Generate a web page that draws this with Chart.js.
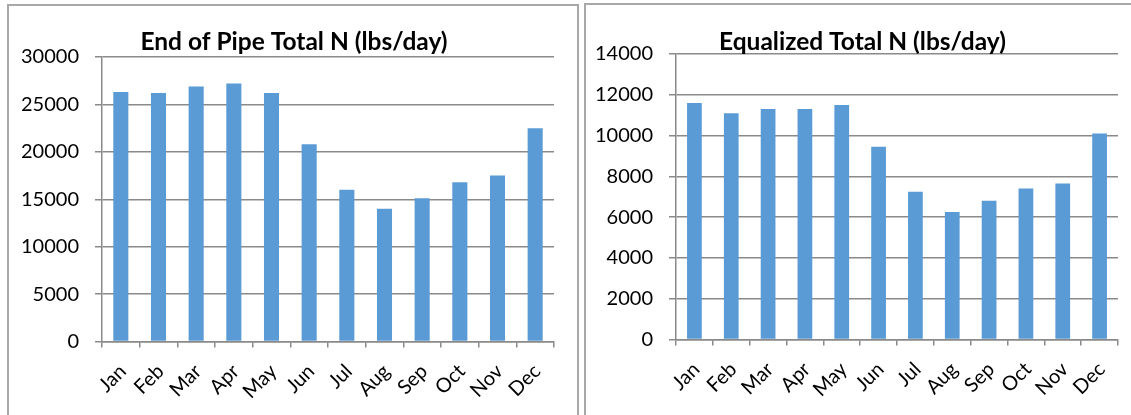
<!DOCTYPE html>
<html>
<head>
<meta charset="utf-8">
<script src="https://cdn.jsdelivr.net/npm/chart.js@4/dist/chart.umd.min.js"></script>
<style>
  html, body { margin: 0; padding: 0; background: #fff; overflow: hidden; width: 1131px; height: 415px; }
  .panel { position: absolute; border: 2px solid #a8a8a8; box-sizing: border-box; }
  #boxPipe { left: 7px; top: 4px; width: 572px; height: 440px; }
  #boxEq { left: 584px; top: 3px; width: 570px; height: 440px; }
  canvas { position: absolute; top: 0; }
  #pipe { left: 0; }
  #eq { left: 580px; }
</style>
</head>
<body>
<div class="panel" id="boxPipe"></div>
<div class="panel" id="boxEq"></div>
<canvas id="pipe" width="580" height="415"></canvas>
<canvas id="eq" width="551" height="415"></canvas>
<script>
// Monthly categories shared by both panels
const months = ['Jan', 'Feb', 'Mar', 'Apr', 'May', 'Jun', 'Jul', 'Aug', 'Sep', 'Oct', 'Nov', 'Dec'];

// End of pipe total nitrogen, lbs/day
const pipeTotalN = [26300, 26200, 26900, 27200, 26200, 20800, 16000, 14000, 15100, 16800, 17500, 22500];

// Equalized total nitrogen, lbs/day
const equalizedTotalN = [11600, 11100, 11300, 11300, 11500, 9450, 7250, 6250, 6800, 7400, 7650, 10100];

// Value-axis tick labels
const pipeTicks = [0, 5000, 10000, 15000, 20000, 25000, 30000];
const eqTicks = [0, 2000, 4000, 6000, 8000, 10000, 12000, 14000];

const pipeTitle = 'End of Pipe Total N (lbs/day)';
const eqTitle = 'Equalized Total N (lbs/day)';

const BAR = '#5B9BD5';
const GRID = '#8a8a8a';
const FONT = 'Lato, "Open Sans", sans-serif';

// Title drawn over the top of the plot, positioned independently of the chart area
const panelTitle = {
  id: 'panelTitle',
  afterDraw(chart, args, opts) {
    const ctx = chart.ctx;
    ctx.save();
    ctx.font = 'bold ' + opts.size + 'px ' + FONT;
    ctx.fillStyle = '#000';
    ctx.textAlign = 'center';
    ctx.textBaseline = 'alphabetic';
    ctx.fillText(opts.text, opts.x, opts.y);
    ctx.restore();
  }
};

function buildPanel(id, values, ticks, title, g) {
  return new Chart(document.getElementById(id), {
    type: 'bar',
    data: {
      labels: months,
      datasets: [{
        data: values,
        backgroundColor: BAR,
        borderWidth: 0,
        barPercentage: 0.4,
        categoryPercentage: 1.0
      }]
    },
    options: {
      responsive: false,
      animation: false,
      devicePixelRatio: 1,
      layout: { padding: { left: g.padLeft, right: g.padRight, top: g.padTop, bottom: 0 } },
      plugins: {
        legend: { display: false },
        tooltip: { enabled: false },
        panelTitle: { text: title, x: g.titleX, y: g.titleY, size: g.titleSize }
      },
      scales: {
        x: {
          grid: { offset: true, drawOnChartArea: false, drawTicks: true, tickLength: 6, color: GRID, lineWidth: 1.5 },
          border: { display: true, color: GRID, width: 1.5 },
          ticks: {
            font: { family: FONT, size: 20 },
            color: '#000',
            minRotation: 45,
            maxRotation: 45,
            autoSkip: false,
            padding: 12,
            labelOffset: 2
          },
          afterFit(scale) { scale.height = g.xHeight; }
        },
        y: {
          min: ticks[0],
          max: ticks[ticks.length - 1],
          grid: { color: GRID, lineWidth: 1.5, drawTicks: true, tickLength: 7 },
          border: { display: true, color: GRID, width: 1.5 },
          ticks: {
            font: { family: FONT, size: 20 },
            color: '#000',
            padding: 16,
            callback: v => String(v)
          },
          afterBuildTicks(scale) { scale.ticks = ticks.map(v => ({ value: v })); },
          afterFit(scale) { scale.width = 80; }
        }
      }
    },
    plugins: [panelTitle]
  });
}

buildPanel('pipe', pipeTotalN, pipeTicks, pipeTitle,
  { padLeft: 22, padRight: 26, padTop: 57, xHeight: 73.5, titleX: 294, titleY: 50, titleSize: 24.5 });

buildPanel('eq', equalizedTotalN, eqTicks, eqTitle,
  { padLeft: 16, padRight: 13, padTop: 54, xHeight: 75.5, titleX: 862.5 - 580, titleY: 50, titleSize: 24.5 });
</script>
</body>
</html>
